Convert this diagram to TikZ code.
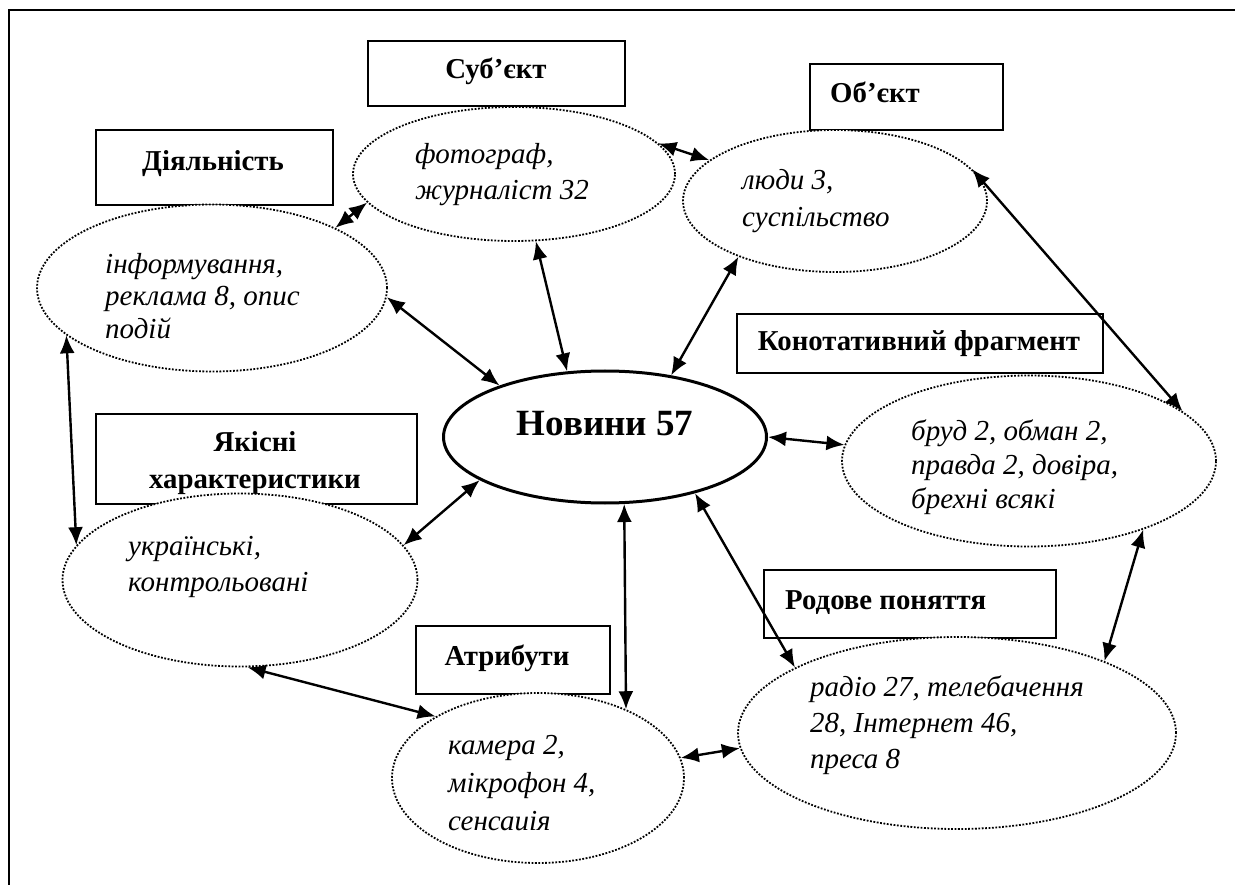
\documentclass[tikz,border=0pt]{standalone}
\usepackage{fontspec}
\setmainfont{Liberation Serif}
\usetikzlibrary{shapes.geometric,arrows.meta}
\begin{document}
\begin{tikzpicture}[x=1pt,y=-1pt,
  lbl/.style={font=\fontsize{28.8}{37}\selectfont\bfseries, inner sep=0pt, align=center},
  box/.style={draw, line width=1.6pt, inner sep=0pt, anchor=north west},
  ell/.style={ellipse, draw, fill=white, line width=1.8pt, dash pattern=on 1.8pt off 1.6pt, inner sep=0pt},
  itx/.style={align=left, anchor=base west, inner sep=0pt},
  link/.style={line width=2.4pt, {Latex[length=18pt,width=15pt]}-{Latex[length=18pt,width=15pt]}}
]
\useasboundingbox (0,0) rectangle (1235,885);
\fill[white] (0,0) rectangle (1235,885);
\draw[line width=2.5pt] (1236,10) -- (9,10) -- (9,886);

% boxes
\node[box, minimum width=237pt, minimum height=75pt] (bAct) at (95,129) {};
\node[box, minimum width=257pt, minimum height=65pt] (bSubj) at (367,40) {};
\node[box, minimum width=193pt, minimum height=66pt] (bObj) at (809,63) {};
\node[box, minimum width=366pt, minimum height=59pt] (bKon) at (736,313) {};
\node[box, minimum width=321pt, minimum height=90pt] (bYaks) at (95,413) {};
\node[box, minimum width=194pt, minimum height=68pt] (bAtr) at (415,625) {};
\node[box, minimum width=292pt, minimum height=68pt] (bRod) at (763,569) {};

% box labels
\node[lbl] (tAct) at (213,164) {Діяльність};
\node[lbl] (tSubj) at (496,71) {Суб’єкт};
\node[lbl, anchor=west] (tObj) at (830,92) {Об’єкт};
\node[lbl] (tKon) at (919,344) {Конотативний фрагмент};
\node[lbl, anchor=base] (tYaks) at (255,488) {Якісні\\характеристики};
\node[lbl] (tAtr) at (507,658) {Атрибути};
\node[lbl, anchor=west] (tRod) at (785,603) {Родове поняття};

% ellipses
\node[ell, minimum width=350pt, minimum height=167pt] (eAct) at (212,288) {};
\node[ell, minimum width=322pt, minimum height=134pt] (eSubj) at (514,174) {};
\node[ell, minimum width=304pt, minimum height=142pt] (eObj) at (835,201) {};
\node[ellipse, draw, fill=white, line width=3pt, inner sep=0pt, minimum width=323pt, minimum height=132pt] (nov) at (605,437) {};
\node[ell, minimum width=374pt, minimum height=171pt] (eKon) at (1029,461) {};
\node[ell, minimum width=355pt, minimum height=173pt] (eYaks) at (240,580) {};
\node[ell, minimum width=292pt, minimum height=170pt] (eAtr) at (538,778) {};
\node[ell, minimum width=438pt, minimum height=192pt] (eRod) at (957,733) {};

% ellipse texts (anchor = baseline of the last line)
\node[itx, font=\fontsize{29}{33}\selectfont\itshape] (xAct) at (105,339) {інформування,\\реклама 8, опис\\подій};
\node[itx, font=\fontsize{29}{36}\selectfont\itshape] (xSubj) at (415,200) {фотограф,\\журналіст 32};
\node[itx, font=\fontsize{29}{37}\selectfont\itshape] (xObj) at (742,227) {люди 3,\\суспільство};
\node[itx, font=\fontsize{29}{34}\selectfont\itshape] (xKon) at (911,508) {бруд 2, обман 2,\\правда 2, довіра,\\брехні всякі};
\node[itx, font=\fontsize{29}{36}\selectfont\itshape] (xYaks) at (128,591) {українські,\\контрольовані};
\node[itx, font=\fontsize{29}{38}\selectfont\itshape] (xAtr) at (448,830) {камера 2,\\мікрофон 4,\\сенсаиія};
\node[itx, font=\fontsize{29}{36}\selectfont\itshape] (xRod) at (810,768) {радіо 27, телебачення\\28, Інтернет 46,\\преса 8};
\node[font=\fontsize{37}{40}\selectfont\bfseries, inner sep=0pt] (xNov) at (605,424) {Новини 57};

% connectors
\draw[link] (eAct.26.6) -- (eSubj.191.9);
\draw[link] (eSubj.12.1) -- (eObj.162);
\draw[link] (eAct.-3.9) -- (nov.154.8);
\draw[link] (eSubj.288.7) -- (nov.120.8);
\draw[link] (eObj.210.5) -- (nov.43.7);
\draw[link] (eObj.13) -- (eKon.18.9);
\draw[link] (nov.0) -- (eKon.175.2);
\draw[link] (eAct.198.4) -- (eYaks.168.7);
\draw[link] (nov.199.3) -- (eYaks.12.9);
\draw[link] (nov.-74) -- (eAtr.38.7);
\draw[link] (nov.-32.2) -- (eRod.158.3);
\draw[link] (eKon.-31.4) -- (eRod.26.6);
\draw[link] (eYaks.-85.3) -- (eAtr.149.8);
\draw[link] (eAtr.8.7) -- (eRod.184.4);
\end{tikzpicture}
\end{document}
